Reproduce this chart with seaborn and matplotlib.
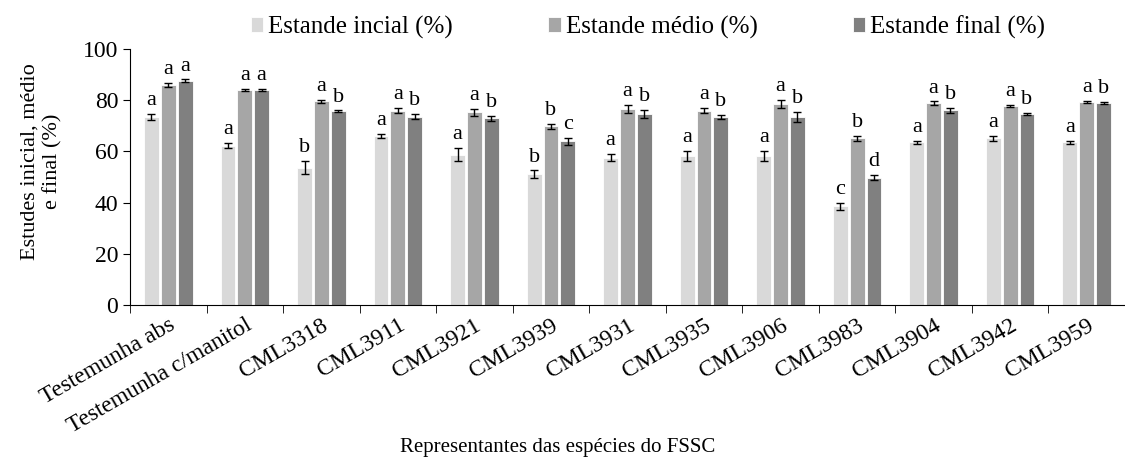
import matplotlib
matplotlib.use("Agg")
import matplotlib.pyplot as plt
import seaborn as sns
import pandas as pd
import numpy as np

acessos = ["Testemunha abs", "Testemunha c/manitol", "CML3318", "CML3911", "CML3921",
           "CML3939", "CML3931", "CML3935", "CML3906", "CML3983", "CML3904", "CML3942", "CML3959"]
series = ["Estande incial (%)", "Estande médio (%)", "Estande final (%)"]

inicial = [73.5, 62.2, 53.7, 66.0, 58.7, 51.1, 57.6, 58.3, 58.3, 38.5, 63.5, 65.2, 63.5]
medio = [85.9, 84.1, 79.5, 75.9, 75.2, 69.8, 76.5, 75.9, 78.5, 65.1, 78.9, 77.6, 79.2]
final = [87.6, 84.1, 75.6, 73.5, 72.9, 63.9, 74.6, 73.5, 73.3, 49.8, 76.1, 74.6, 78.8]

erro_inicial = [1.2, 1.0, 2.5, 0.8, 2.5, 1.5, 1.5, 2.0, 2.0, 1.5, 0.5, 1.0, 0.5]
erro_medio = [0.7, 0.4, 0.5, 1.0, 1.5, 1.0, 1.5, 1.0, 1.5, 1.0, 0.6, 0.4, 0.4]
erro_final = [0.5, 0.4, 0.4, 1.0, 1.0, 1.5, 1.5, 0.8, 2.0, 1.0, 1.0, 0.4, 0.4]

letras_inicial = ["a", "a", "b", "a", "a", "b", "a", "a", "a", "c", "a", "a", "a"]
letras_medio = ["a", "a", "a", "a", "a", "b", "a", "a", "a", "b", "a", "a", "a"]
letras_final = ["a", "a", "b", "b", "b", "c", "b", "b", "b", "d", "b", "b", "b"]

valores = [inicial, medio, final]
erros = [erro_inicial, erro_medio, erro_final]
letras = [letras_inicial, letras_medio, letras_final]
cores = ["#d9d9d9", "#a6a6a6", "#808080"]

df = pd.DataFrame({
    "acesso": acessos * 3,
    "serie": np.repeat(series, len(acessos)),
    "valor": inicial + medio + final,
})

plt.rcParams["font.family"] = ["Liberation Serif", "DejaVu Serif"]

fig = plt.figure(figsize=(11.25, 4.59), dpi=100)
ax = fig.add_axes([130 / 1125, 1 - 305 / 459, 1 - 130 / 1125, (305 - 49) / 459])

sns.barplot(data=df, x="acesso", y="valor", hue="serie", palette=cores,
            width=0.66, gap=0.12, edgecolor="white", linewidth=0.6,
            errorbar=None, ax=ax, legend=True)

# barras de erro e letras do teste de medias
for cont, err, let in zip(ax.containers, erros, letras):
    xs = [b.get_x() + b.get_width() / 2 for b in cont]
    hs = [b.get_height() for b in cont]
    ax.errorbar(xs, hs, yerr=err, fmt="none", ecolor="black", elinewidth=1.0,
                capsize=3, capthick=1.0)
    for x, h, e, l in zip(xs, hs, err, let):
        ax.text(x, h + e + 1.5, l, ha="center", va="bottom", fontsize=16, clip_on=False)

handles, labels = ax.get_legend_handles_labels()
ax.get_legend().remove()
fig.legend(handles, labels, loc="center", bbox_to_anchor=(0.576, 0.941), ncol=3,
           frameon=False, fontsize=18, handlelength=0.5, handleheight=0.6,
           handletextpad=0.2, columnspacing=3.8)

ax.set_ylim(0, 100)
ax.set_xlim(-0.5, 12.37)
ax.set_yticks(range(0, 101, 20))
ax.tick_params(axis="y", labelsize=17, direction="out", length=5)
ax.set_xticks(np.arange(-0.5, 13, 1), minor=True)
ax.tick_params(axis="x", which="major", length=0, labelsize=17, pad=7)
ax.tick_params(axis="x", which="minor", length=6, direction="out")
plt.setp(ax.get_xticklabels(), rotation=30, ha="right", rotation_mode="anchor")

ax.set_xlabel("Representantes das espécies do FSSC", fontsize=15)
ax.set_ylabel("Estudes inicial, médio\ne final (%)", fontsize=16)
ax.xaxis.set_label_coords(0.43, -0.52)
ax.yaxis.set_label_coords(-0.068, 0.56)
sns.despine(ax=ax)

fig.savefig("out.png", dpi=100)
